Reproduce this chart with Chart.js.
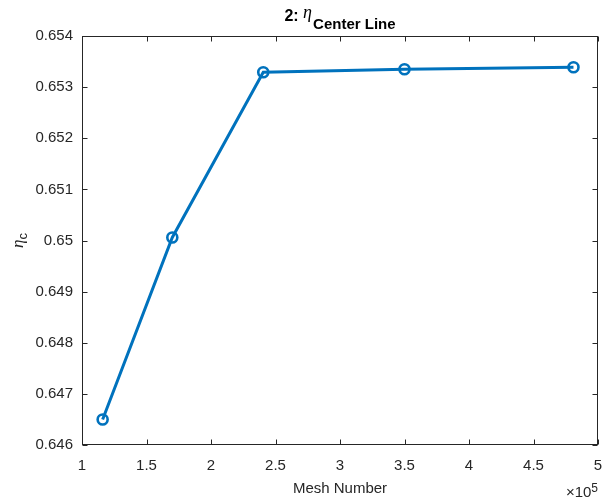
<!DOCTYPE html>
<html><head><meta charset="utf-8">
<style>html,body{margin:0;padding:0;background:#fff}#wrap{width:603px;height:501px}</style>
<script src="https://cdn.jsdelivr.net/npm/chart.js@4"></script>
</head><body><div id="wrap"><canvas id="c" width="603" height="501"></canvas></div>
<script>
// Data (x in mesh cells; axis shows ×10^5)
const meshNumber = [116000, 170000, 240500, 350000, 481000];
const etaCenterLine = [0.64650, 0.65006, 0.65329, 0.65335, 0.65339];
const xTickValues = [100000, 150000, 200000, 250000, 300000, 350000, 400000, 450000, 500000];
const yTickValues = [0.646, 0.647, 0.648, 0.649, 0.650, 0.651, 0.652, 0.653, 0.654];
const titleMain = "2: ";
const titleSym = "\u03B7";
const titleSub = "Center Line";
const xLabel = "Mesh Number";
const yLabelSym = "\u03B7";
const yLabelSub = "c";

const AX = '#262626';
const FONT = "'Liberation Sans', Arial, Helvetica, sans-serif";
const PLOT_RIGHT = 598;

const fixArea = {
  id: 'fixArea',
  afterLayout(chart) {
    // keep plot box at MATLAB axes position
    const a = chart.chartArea;
    if (a.right !== PLOT_RIGHT) {
      a.right = PLOT_RIGHT; a.width = a.right - a.left;
      const xs = chart.scales.x;
      xs.right = PLOT_RIGHT; xs.width = xs.right - xs.left;
      xs.configure();
    }
  }
};

const decor = {
  id: 'decor',
  afterDraw(chart) {
    const ctx = chart.ctx, a = chart.chartArea;
    const xs = chart.scales.x, ys = chart.scales.y;
    ctx.save();
    ctx.strokeStyle = AX; ctx.lineWidth = 1;
    const L = Math.round(a.left) + 0.5, R = Math.round(a.right) - 0.5;
    const T = Math.round(a.top) + 0.5, B = Math.round(a.bottom) - 0.5;
    ctx.strokeRect(L, T, R - L, B - T);
    const tl = 5;
    ctx.beginPath();
    xTickValues.forEach(v => {
      const px = Math.round(xs.getPixelForValue(v)) + 0.5;
      ctx.moveTo(px, B); ctx.lineTo(px, B - tl);
      ctx.moveTo(px, T); ctx.lineTo(px, T + tl);
    });
    yTickValues.forEach(v => {
      const py = Math.round(ys.getPixelForValue(v)) + 0.5;
      ctx.moveTo(L, py); ctx.lineTo(L + tl, py);
      ctx.moveTo(R, py); ctx.lineTo(R - tl, py);
    });
    ctx.stroke();

    // Title
    ctx.fillStyle = '#000';
    ctx.textBaseline = 'alphabetic';
    const fMain = "bold 16px " + FONT;
    const fSym = "italic 18px 'Liberation Serif', 'DejaVu Serif', serif";
    const fSub = "bold 15px " + FONT;
    ctx.font = fMain; const w1 = ctx.measureText(titleMain).width;
    ctx.font = fSym; const w2 = ctx.measureText(titleSym).width;
    ctx.font = fSub; const w3 = ctx.measureText(titleSub).width;
    const cx = (a.left + a.right) / 2;
    let x0 = cx - (w1 + w2 + 1 + w3) / 2;
    ctx.textAlign = 'left';
    ctx.font = fMain; ctx.fillText(titleMain, x0, 21);
    ctx.font = fSym; ctx.fillText(titleSym, x0 + w1, 18);
    ctx.font = fSub; ctx.fillText(titleSub, x0 + w1 + w2 + 1, 29);

    // Y label (rotated)
    ctx.save();
    ctx.fillStyle = AX;
    ctx.translate(23, (a.top + a.bottom) / 2);
    ctx.rotate(-Math.PI / 2);
    const fy1 = "italic 17px 'Liberation Serif', 'DejaVu Serif', serif";
    const fy2 = "13px " + FONT;
    ctx.font = fy1; const yw1 = ctx.measureText(yLabelSym).width;
    ctx.font = fy2; const yw2 = ctx.measureText(yLabelSub).width;
    let yx = -(yw1 + yw2) / 2;
    ctx.font = fy1; ctx.fillText(yLabelSym, yx, 0);
    ctx.font = fy2; ctx.fillText(yLabelSub, yx + yw1, 4);
    ctx.restore();

    // x10^5 exponent
    ctx.fillStyle = AX;
    ctx.textAlign = 'right';
    ctx.font = "12px " + FONT;
    ctx.fillText('5', a.right, 492);
    const w5 = ctx.measureText('5').width;
    ctx.font = "15px " + FONT;
    ctx.fillText('\u00D710', a.right - w5, 497);
    ctx.restore();
  }
};

new Chart(document.getElementById('c'), {
  type: 'line',
  data: {
    datasets: [{
      data: meshNumber.map((m, i) => ({ x: m, y: etaCenterLine[i] })),
      borderColor: '#0072BD',
      borderWidth: 3,
      pointRadius: 5,
      pointHoverRadius: 5,
      pointBorderWidth: 2.6,
      pointBackgroundColor: 'rgba(0,0,0,0)',
      pointBorderColor: '#0072BD',
      tension: 0,
      clip: false
    }]
  },
  options: {
    responsive: false,
    devicePixelRatio: 1,
    animation: false,
    layout: { padding: { top: 36, right: 5, left: 0, bottom: 0 } },
    plugins: { legend: { display: false }, title: { display: false }, tooltip: { enabled: false } },
    scales: {
      x: {
        type: 'linear', min: 100000, max: 500000,
        grid: { display: false, drawTicks: false },
        border: { display: false },
        afterBuildTicks: s => { s.ticks = xTickValues.map(v => ({ value: v })); },
        afterFit: s => { s.height = 56; s.paddingLeft = 0; s.paddingRight = 0; },
        ticks: { color: AX, font: { family: FONT, size: 15 }, padding: 12, maxRotation: 0,
          callback: v => String(+(v / 1e5).toFixed(2)) },
        title: { display: true, text: xLabel, color: AX, font: { family: FONT, size: 15 }, padding: { top: 0, bottom: 3 } }
      },
      y: {
        type: 'linear', min: 0.646, max: 0.654,
        grid: { display: false, drawTicks: false },
        border: { display: false },
        afterBuildTicks: s => { s.ticks = yTickValues.map(v => ({ value: v })); },
        afterFit: s => { s.width = 82; s.paddingTop = 0; s.paddingBottom = 0; },
        ticks: { color: AX, font: { family: FONT, size: 15 }, padding: 9,
          callback: v => String(+(+v).toFixed(3)) }
      }
    }
  },
  plugins: [fixArea, decor]
});
</script></body></html>
